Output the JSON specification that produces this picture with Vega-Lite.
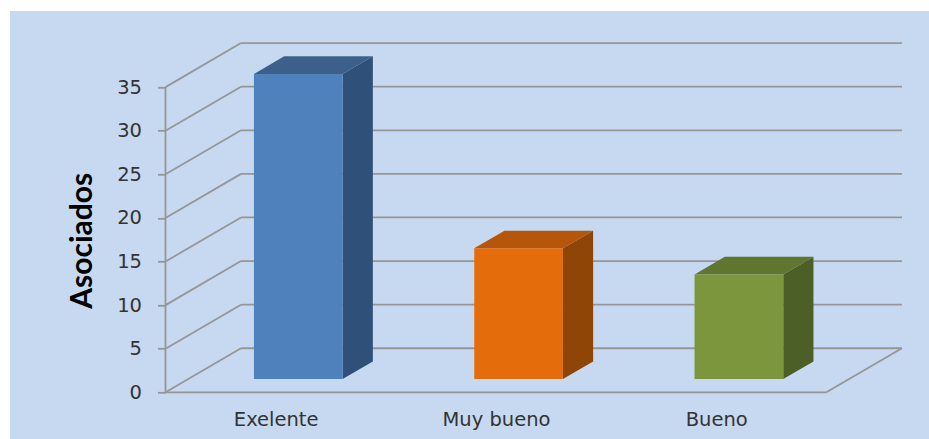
{
  "$schema": "https://vega.github.io/schema/vega-lite/v6.json",
  "width": 737.5,
  "height": 350,
  "autosize": {"type": "none"},
  "padding": {"left": 165.5, "top": 42.3, "right": 26, "bottom": 46.7},
  "background": "#ffffff",
  "view": {"stroke": null},
  "params": [
    {"name": "fondoX", "value": 0.3427},
    {"name": "fondoY", "value": 5.05},
    {"name": "ancho", "value": 0.4026},
    {"name": "frente", "value": 0.3},
    {"name": "trasera", "value": 0.7}
  ],
  "data": {
    "values": [
      {"categoria": "Exelente", "asociados": 35},
      {"categoria": "Muy bueno", "asociados": 15},
      {"categoria": "Bueno", "asociados": 12}
    ]
  },
  "transform": [
    {"window": [{"op": "row_number", "as": "n"}]},
    {"calculate": "datum.n - 0.5 - ancho / 2 + frente * fondoX", "as": "izq"},
    {"calculate": "datum.izq + ancho", "as": "der"},
    {"calculate": "frente * fondoY", "as": "base"},
    {"calculate": "datum.asociados + frente * fondoY", "as": "techo"}
  ],
  "layer": [
    {
      "data": {"values": [{"x0": -0.7059, "x1": 3.466, "y0": -5.36, "y1": 43.73}]},
      "transform": [],
      "mark": {"type": "rect", "fill": "#C6D9F1"},
      "encoding": {
        "x": {"field": "x0", "type": "quantitative", "scale": {"domain": [0, 3.3477], "nice": false, "zero": false}, "axis": null},
        "x2": {"field": "x1"},
        "y": {"field": "y0", "type": "quantitative", "scale": {"domain": [0, 40.14], "nice": false, "zero": false}, "axis": null},
        "y2": {"field": "y1"}
      }
    },
    {
      "data": {"values": [{"a": 0, "b": 35}]},
      "transform": [],
      "mark": {"type": "rule", "stroke": "#969696", "strokeWidth": 1.8},
      "encoding": {
        "x": {
          "datum": 0,
          "type": "quantitative",
          "scale": {"domain": [0, 3.3477], "nice": false, "zero": false},
          "axis": {
            "zindex": 1,
            "title": null,
            "values": [0.5, 1.5, 2.5],
            "labelExpr": "['Exelente', 'Muy bueno', 'Bueno'][datum.value - 0.5]",
            "domain": false,
            "ticks": false,
            "grid": false,
            "labelPadding": 18,
            "labelFont": "DejaVu Sans",
            "labelFontSize": 19.5,
            "labelColor": "#333333",
            "labelFlush": false,
            "labelOverlap": false
          }
        },
        "y": {
          "field": "a",
          "type": "quantitative",
          "scale": {"domain": [0, 40.14], "nice": false, "zero": false},
          "axis": {
            "zindex": 1,
            "title": "Asociados",
            "titleFont": "Lato",
            "titleFontWeight": "bold",
            "titleFontSize": 30,
            "titleColor": "#000000",
            "titleAngle": -90,
            "titleX": -83,
            "titleY": 198,
            "titleAlign": "center",
            "titleBaseline": "middle",
            "values": [0, 5, 10, 15, 20, 25, 30, 35],
            "domain": false,
            "grid": false,
            "tickColor": "#969696",
            "tickWidth": 1.8,
            "tickSize": 8,
            "labelPadding": 16,
            "labelFont": "DejaVu Sans",
            "labelFontSize": 19.5,
            "labelColor": "#333333"
          }
        },
        "y2": {"field": "b"}
      }
    },
    {
      "data": {
        "values": [
          {"nivel": 0}, {"nivel": 5}, {"nivel": 10}, {"nivel": 15},
          {"nivel": 20}, {"nivel": 25}, {"nivel": 30}, {"nivel": 35}
        ]
      },
      "transform": [
        {"calculate": "fondoX", "as": "xa"},
        {"calculate": "datum.nivel + fondoY", "as": "ya"},
        {"calculate": "0", "as": "x0"}
      ],
      "layer": [
        {
          "mark": {"type": "rule", "stroke": "#969696", "strokeWidth": 1.8},
          "encoding": {
            "x": {"field": "x0", "type": "quantitative", "scale": {"domain": [0, 3.3477], "nice": false, "zero": false}, "axis": null},
            "x2": {"field": "xa"},
            "y": {"field": "nivel", "type": "quantitative", "scale": {"domain": [0, 40.14], "nice": false, "zero": false}, "axis": null},
            "y2": {"field": "ya"}
          }
        },
        {
          "transform": [{"calculate": "datum.xa + 3", "as": "xb"}],
          "mark": {"type": "rule", "stroke": "#969696", "strokeWidth": 1.8},
          "encoding": {
            "x": {"field": "xa", "type": "quantitative", "scale": {"domain": [0, 3.3477], "nice": false, "zero": false}, "axis": null},
            "x2": {"field": "xb"},
            "y": {"field": "ya", "type": "quantitative", "scale": {"domain": [0, 40.14], "nice": false, "zero": false}, "axis": null}
          }
        }
      ]
    },
    {
      "data": {"values": [{"x0": 0, "x1": 3, "y0": 0}]},
      "transform": [],
      "layer": [
        {
          "mark": {"type": "rule", "stroke": "#969696", "strokeWidth": 1.8},
          "encoding": {
            "x": {"field": "x0", "type": "quantitative", "scale": {"domain": [0, 3.3477], "nice": false, "zero": false}, "axis": null},
            "x2": {"field": "x1"},
            "y": {"field": "y0", "type": "quantitative", "scale": {"domain": [0, 40.14], "nice": false, "zero": false}, "axis": null}
          }
        },
        {
          "transform": [
            {"calculate": "3 + fondoX", "as": "xf"},
            {"calculate": "fondoY", "as": "yf"}
          ],
          "mark": {"type": "rule", "stroke": "#969696", "strokeWidth": 1.8},
          "encoding": {
            "x": {"field": "x1", "type": "quantitative", "scale": {"domain": [0, 3.3477], "nice": false, "zero": false}, "axis": null},
            "x2": {"field": "xf"},
            "y": {"field": "y0", "type": "quantitative", "scale": {"domain": [0, 40.14], "nice": false, "zero": false}, "axis": null},
            "y2": {"field": "yf"}
          }
        }
      ]
    },
    {
      "transform": [
        {"calculate": "[0, 1]", "as": "t"},
        {"flatten": ["t"]},
        {"calculate": "datum.der + datum.t * (trasera - frente) * fondoX", "as": "xs"},
        {"calculate": "datum.base + datum.t * (trasera - frente) * fondoY", "as": "ys0"},
        {"calculate": "datum.techo + datum.t * (trasera - frente) * fondoY", "as": "ys1"}
      ],
      "mark": {"type": "area", "orient": "vertical", "interpolate": "linear"},
      "encoding": {
        "detail": {"field": "categoria"},
        "x": {"field": "xs", "type": "quantitative", "scale": {"domain": [0, 3.3477], "nice": false, "zero": false}, "axis": null},
        "y": {"field": "ys0", "type": "quantitative", "stack": null, "scale": {"domain": [0, 40.14], "nice": false, "zero": false}, "axis": null},
        "y2": {"field": "ys1"},
        "color": {
          "field": "categoria",
          "legend": null,
          "scale": {"domain": ["Exelente", "Muy bueno", "Bueno"], "range": ["#2F5078", "#8F4505", "#4C5F26"]}
        }
      }
    },
    {
      "transform": [
        {"calculate": "[0, 1]", "as": "t"},
        {"flatten": ["t"]},
        {"calculate": "datum.izq + datum.t * (trasera - frente) * fondoX", "as": "xt0"},
        {"calculate": "datum.der + datum.t * (trasera - frente) * fondoX", "as": "xt1"},
        {"calculate": "datum.techo + datum.t * (trasera - frente) * fondoY", "as": "yt"}
      ],
      "mark": {"type": "area", "orient": "horizontal", "interpolate": "linear"},
      "encoding": {
        "detail": {"field": "categoria"},
        "y": {"field": "yt", "type": "quantitative", "scale": {"domain": [0, 40.14], "nice": false, "zero": false}, "axis": null},
        "x": {"field": "xt0", "type": "quantitative", "stack": null, "scale": {"domain": [0, 3.3477], "nice": false, "zero": false}, "axis": null},
        "x2": {"field": "xt1"},
        "color": {
          "field": "categoria",
          "legend": null,
          "scale": {"domain": ["Exelente", "Muy bueno", "Bueno"], "range": ["#3C6089", "#B5560A", "#5F7530"]}
        }
      }
    },
    {
      "mark": {"type": "rect"},
      "encoding": {
        "x": {"field": "izq", "type": "quantitative", "scale": {"domain": [0, 3.3477], "nice": false, "zero": false}, "axis": null},
        "x2": {"field": "der"},
        "y": {"field": "base", "type": "quantitative", "scale": {"domain": [0, 40.14], "nice": false, "zero": false}, "axis": null},
        "y2": {"field": "techo"},
        "color": {
          "field": "categoria",
          "legend": null,
          "scale": {"domain": ["Exelente", "Muy bueno", "Bueno"], "range": ["#4F81BD", "#E46C0A", "#7B963C"]}
        }
      }
    }
  ],
  "resolve": {"scale": {"color": "independent"}, "axis": {"x": "independent", "y": "independent"}}
}
